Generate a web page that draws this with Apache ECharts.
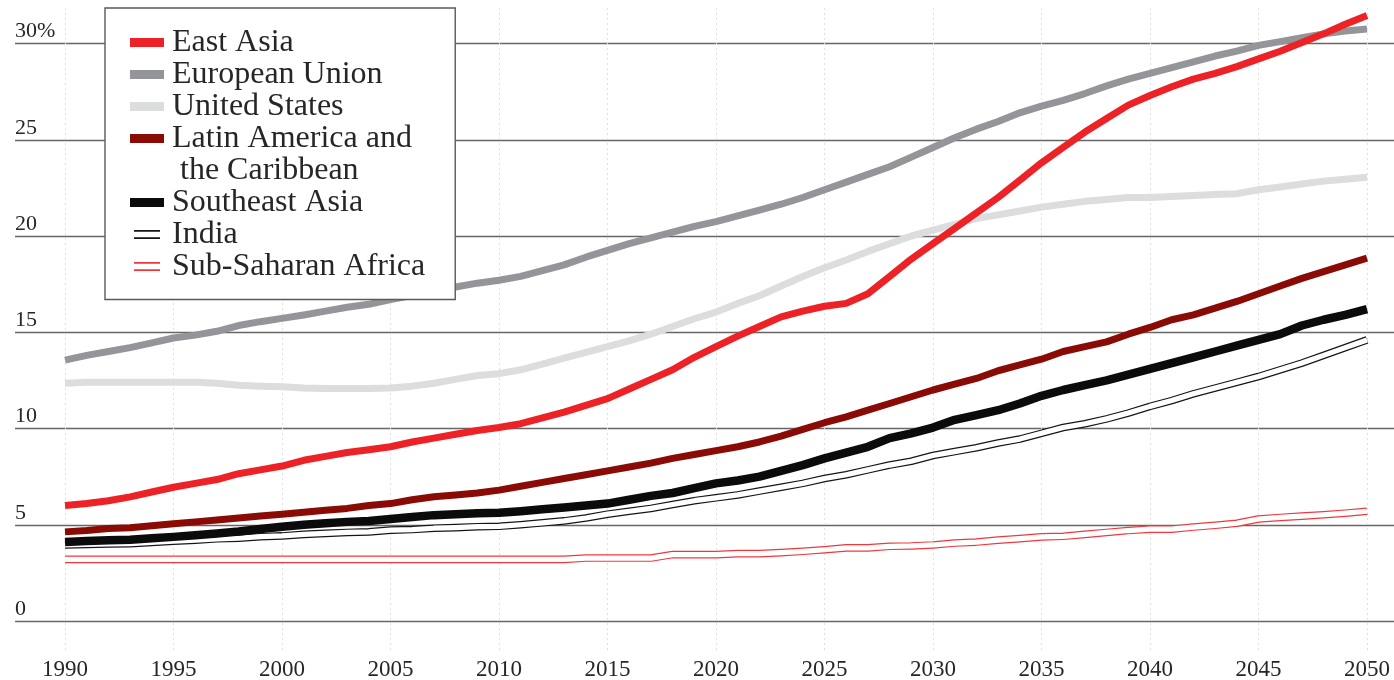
<!DOCTYPE html>
<html>
<head>
<meta charset="utf-8">
<script src="https://cdn.jsdelivr.net/npm/echarts@6/dist/echarts.min.js"></script>
<style>
html,body{margin:0;padding:0;background:#fff;}
#chart{width:1394px;height:680px;}
</style>
</head>
<body>
<div id="chart"></div>
<script>
// ---- Data (percent) ----
const years = [1990,1991,1992,1993,1994,1995,1996,1997,1998,1999,
  2000,2001,2002,2003,2004,2005,2006,2007,2008,2009,
  2010,2011,2012,2013,2014,2015,2016,2017,2018,2019,
  2020,2021,2022,2023,2024,2025,2026,2027,2028,2029,
  2030,2031,2032,2033,2034,2035,2036,2037,2038,2039,
  2040,2041,2042,2043,2044,2045,2046,2047,2048,2049,2050];

const eastAsia = [6.0,6.1,6.25,6.45,6.7,6.95,7.15,7.35,7.65,7.85,
  8.05,8.35,8.55,8.75,8.9,9.05,9.3,9.5,9.7,9.9,
  10.05,10.25,10.55,10.85,11.2,11.55,12.05,12.55,13.05,13.7,
  14.25,14.8,15.3,15.8,16.1,16.35,16.5,17.0,17.9,18.8,
  19.6,20.4,21.2,22.0,22.9,23.8,24.6,25.4,26.1,26.8,
  27.3,27.75,28.15,28.45,28.8,29.2,29.6,30.05,30.5,31.0,31.45];

const europeanUnion = [13.55,13.8,14.0,14.2,14.45,14.7,14.85,15.05,15.35,15.55,
  15.72,15.9,16.1,16.3,16.45,16.7,16.9,17.1,17.35,17.55,
  17.7,17.9,18.2,18.5,18.9,19.25,19.6,19.9,20.2,20.5,
  20.75,21.05,21.35,21.65,22.0,22.4,22.8,23.2,23.6,24.1,
  24.6,25.1,25.55,25.95,26.4,26.75,27.05,27.4,27.8,28.15,
  28.45,28.75,29.05,29.35,29.6,29.9,30.1,30.3,30.5,30.65,30.75];

const unitedStates = [12.35,12.4,12.4,12.4,12.4,12.4,12.4,12.35,12.25,12.2,
  12.17,12.1,12.08,12.08,12.08,12.1,12.2,12.35,12.55,12.75,
  12.85,13.05,13.35,13.65,13.95,14.25,14.55,14.9,15.3,15.7,
  16.05,16.5,16.9,17.4,17.9,18.35,18.75,19.2,19.6,20.0,
  20.3,20.6,20.9,21.1,21.3,21.5,21.65,21.8,21.9,22.0,
  22.0,22.05,22.1,22.15,22.2,22.4,22.55,22.7,22.85,22.95,23.05];

const latinAmerica = [4.63,4.7,4.8,4.85,4.95,5.05,5.15,5.25,5.35,5.45,
  5.55,5.65,5.75,5.85,6.0,6.1,6.3,6.45,6.55,6.65,
  6.8,7.0,7.2,7.4,7.6,7.8,8.0,8.2,8.45,8.65,
  8.85,9.05,9.3,9.6,9.95,10.3,10.6,10.95,11.3,11.65,
  12.0,12.3,12.6,13.0,13.3,13.6,14.0,14.25,14.5,14.9,
  15.25,15.65,15.9,16.25,16.6,17.0,17.4,17.8,18.15,18.5,18.85];

const southeastAsia = [4.1,4.15,4.2,4.22,4.3,4.37,4.45,4.55,4.65,4.78,
  4.9,5.0,5.08,5.15,5.2,5.3,5.4,5.5,5.55,5.6,
  5.62,5.7,5.8,5.9,6.0,6.1,6.3,6.5,6.65,6.9,
  7.15,7.3,7.5,7.8,8.1,8.45,8.75,9.05,9.5,9.75,
  10.05,10.45,10.7,10.95,11.3,11.7,12.0,12.25,12.5,12.8,
  13.1,13.4,13.7,14.0,14.3,14.6,14.9,15.35,15.65,15.9,16.2];

const india = [3.95,3.98,4.0,4.02,4.08,4.15,4.2,4.27,4.3,4.38,
  4.42,4.5,4.55,4.6,4.63,4.72,4.75,4.82,4.85,4.9,
  4.92,5.0,5.1,5.2,5.35,5.55,5.7,5.85,6.05,6.25,
  6.4,6.55,6.75,6.95,7.15,7.4,7.6,7.85,8.1,8.3,
  8.6,8.8,9.0,9.25,9.45,9.75,10.05,10.25,10.5,10.8,
  11.15,11.45,11.8,12.1,12.4,12.7,13.05,13.4,13.8,14.2,14.6];

const subSaharanAfrica = [3.2,3.2,3.2,3.2,3.2,3.2,3.2,3.2,3.2,3.2,
  3.2,3.2,3.2,3.2,3.2,3.2,3.2,3.2,3.2,3.2,
  3.2,3.2,3.2,3.2,3.27,3.27,3.27,3.27,3.45,3.45,
  3.45,3.5,3.5,3.55,3.62,3.7,3.8,3.8,3.88,3.9,
  3.95,4.05,4.1,4.2,4.28,4.37,4.4,4.5,4.6,4.7,
  4.77,4.77,4.88,4.97,5.08,5.3,5.38,5.45,5.52,5.6,5.7];

const yTickLabels = {0:'0',5:'5',10:'10',15:'15',20:'20',25:'25',30:'30%'};

// ---- Chart ----
const FONT = '"Liberation Serif", "DejaVu Serif", serif';
const pairs = (vals) => years.map((y, i) => [y, vals[i]]);
const DOUBLE_ICON = 'path://M0,0 M34,9 M4,0H30V1.8H4Z M4,7.2H30V9H4Z';

function lineSeries(name, vals, color, width, extra) {
  return Object.assign({
    name: name, type: 'line', xAxisIndex: 0, yAxisIndex: 0,
    data: pairs(vals), symbol: 'none', showSymbol: false,
    lineStyle: {color: color, width: width, cap: 'butt', join: 'round'},
    itemStyle: {color: color},
    emphasis: {disabled: true}, silent: true
  }, extra || {});
}

const LATIN = 'Latin America and the Caribbean';
const LATIN2 = ' the Caribbean';

const chart = echarts.init(document.getElementById('chart'), null, {renderer: 'canvas'});
chart.setOption({
  animation: false,
  backgroundColor: '#ffffff',
  grid: [
    {left: 65, right: 27, top: 8, bottom: 28, containLabel: false, outerBoundsMode: 'none'},
    {left: 15, right: 0, top: 43.5, bottom: 59, containLabel: false, outerBoundsMode: 'none'}
  ],
  xAxis: [
    {gridIndex: 0, type: 'value', min: 1990, max: 2050, interval: 5,
      axisLine: {show: false}, axisTick: {show: false},
      axisLabel: {fontFamily: FONT, fontSize: 23, color: '#262626', margin: 6, formatter: v => String(v)},
      splitLine: {show: true, lineStyle: {color: '#e0e0e0', type: [2, 3], width: 1}}},
    {gridIndex: 1, type: 'value', min: 0, max: 1, show: false}
  ],
  yAxis: [
    {gridIndex: 0, type: 'value', min: -1.61, max: 31.844, show: false, splitLine: {show: false}},
    {gridIndex: 1, type: 'value', min: 0, max: 30, interval: 5,
      axisLine: {show: false}, axisTick: {show: false},
      axisLabel: {inside: true, margin: 0, align: 'left', verticalAlign: 'bottom',
        padding: [0, 0, 1, 0], fontFamily: FONT, fontSize: 22, color: '#262626',
        formatter: v => (yTickLabels[v] !== undefined ? yTickLabels[v] : '')},
      splitLine: {show: true, lineStyle: {color: '#666666', width: 1.3}}}
  ],
  legend: {
    orient: 'vertical', left: 105, top: 8,
    padding: [18.5, 30, 17, 25],
    backgroundColor: '#ffffff', borderColor: '#5a5a5a', borderWidth: 1.4,
    itemWidth: 34, itemHeight: 9, itemGap: 0,
    itemStyle: {borderWidth: 0},
    selectedMode: false,
    textStyle: {fontFamily: FONT, fontSize: 32, color: '#262626', lineHeight: 32, padding: [0, 0, 0, 3]},
    formatter: n => (n === LATIN ? 'Latin America and' : n),
    data: [
      {name: 'East Asia', icon: 'rect'},
      {name: 'European Union', icon: 'rect'},
      {name: 'United States', icon: 'rect'},
      {name: LATIN, icon: 'rect'},
      {name: LATIN2, icon: 'rect', itemStyle: {opacity: 0}},
      {name: 'Southeast Asia', icon: 'rect'},
      {name: 'India', icon: DOUBLE_ICON},
      {name: 'Sub-Saharan Africa', icon: DOUBLE_ICON}
    ]
  },
  series: [
    lineSeries('Sub-Saharan Africa', subSaharanAfrica, '#f0383c', 7.6),
    lineSeries('SSA inner', subSaharanAfrica, '#ffffff', 5.2),
    lineSeries('India', india, '#151515', 7.6),
    lineSeries('India inner', india, '#ffffff', 5.2),
    lineSeries('United States', unitedStates, '#dcddde', 7),
    lineSeries('European Union', europeanUnion, '#939598', 7),
    lineSeries(LATIN, latinAmerica, '#8a0a05', 7),
    lineSeries('Southeast Asia', southeastAsia, '#0b0b0b', 8.5),
    lineSeries('East Asia', eastAsia, '#ed2226', 7),
    {name: LATIN2, type: 'line', xAxisIndex: 0, yAxisIndex: 0, data: [],
      lineStyle: {color: 'rgba(0,0,0,0)'}, itemStyle: {color: 'rgba(0,0,0,0)'}, silent: true}
  ]
});
</script>
</body>
</html>
